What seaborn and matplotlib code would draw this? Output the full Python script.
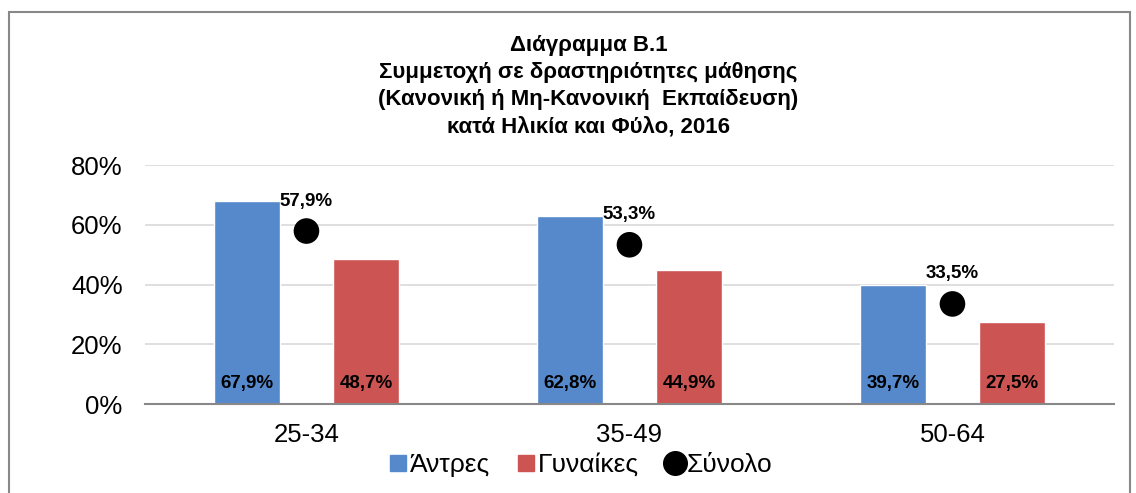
import pandas as pd
import matplotlib.pyplot as plt
from matplotlib.lines import Line2D
from matplotlib.patches import Rectangle
from matplotlib.ticker import FuncFormatter
import seaborn as sns

# Data
ages = ["25-34", "35-49", "50-64"]
men = [67.9, 62.8, 39.7]
women = [48.7, 44.9, 27.5]
total = [57.9, 53.3, 33.5]

blue = "#5589CC"
red = "#CC5553"

sns.set_theme(style="white")
plt.rcParams["font.family"] = ["Liberation Sans", "DejaVu Sans"]
plt.rcParams["text.color"] = "black"

df = pd.DataFrame({
    "age": ages * 2,
    "value": men + women,
    "sex": ["Άντρες"] * 3 + ["Γυναίκες"] * 3,
})

fig = plt.figure(figsize=(11.36, 4.93), dpi=100)
ax = fig.add_axes([0.1276, 0.1805, 0.853, 0.4848])

sns.barplot(data=df, x="age", y="value", hue="sex", palette=[blue, red],
            width=0.74, gap=0.45, legend=False, ax=ax, saturation=1)
sns.scatterplot(x=list(range(len(ages))), y=total, color="black", s=340,
                edgecolor="none", ax=ax, zorder=5)


def pct(v):
    return f"{v:.1f}%".replace(".", ",")


# labels
for i in range(len(ages)):
    ax.text(i - 0.185, 7, pct(men[i]), ha="center", va="center",
            fontsize=13.5, fontweight="bold", color="black")
    ax.text(i + 0.185, 7, pct(women[i]), ha="center", va="center",
            fontsize=13.5, fontweight="bold", color="black")
    ax.annotate(pct(total[i]), (i, total[i]), xytext=(0, 30),
                textcoords="offset pixels", ha="center", va="center",
                fontsize=13.5, fontweight="bold", color="black")

ax.set_xlim(-0.5, 2.5)
ax.set_ylim(0, 80)
ax.set_yticks([0, 20, 40, 60, 80])
ax.yaxis.set_major_formatter(FuncFormatter(lambda v, p: f"{v:.0f}%"))
ax.grid(axis="y", color="#D9D9D9", linewidth=1.2)
ax.set_axisbelow(True)
for s in ["top", "right", "left"]:
    ax.spines[s].set_visible(False)
ax.spines["bottom"].set_color("#888888")
ax.spines["bottom"].set_linewidth(1.5)
ax.tick_params(axis="both", length=0, labelsize=18.5, colors="black")
ax.tick_params(axis="y", pad=16)
ax.tick_params(axis="x", pad=14)
ax.set_xlabel("")
ax.set_ylabel("")

fig.text(0.518, 0.825,
         "Διάγραμμα Β.1\nΣυμμετοχή σε δραστηριότητες μάθησης\n"
         "(Κανονική ή Μη-Κανονική  Εκπαίδευση)\nκατά Ηλικία και Φύλο, 2016",
         ha="center", va="center", fontsize=16, fontweight="bold",
         linespacing=1.38)

handles = [
    Line2D([], [], marker="s", linestyle="none", color=blue, markersize=11),
    Line2D([], [], marker="s", linestyle="none", color=red, markersize=11),
    Line2D([], [], marker="o", linestyle="none", color="black", markersize=17),
]
fig.legend(handles, ["Άντρες", "Γυναίκες", "Σύνολο"], loc="center",
           bbox_to_anchor=(0.51, 0.057), ncol=3, frameon=False, fontsize=19,
           handletextpad=0.0, columnspacing=0.9, handlelength=0.9)

fig.patches.append(Rectangle((9 / 1136, -0.1), 1121 / 1136, 1.1 - 12 / 493,
                             transform=fig.transFigure, fill=False,
                             edgecolor="#888888", linewidth=1.5))

fig.savefig("out.png", dpi=100)
